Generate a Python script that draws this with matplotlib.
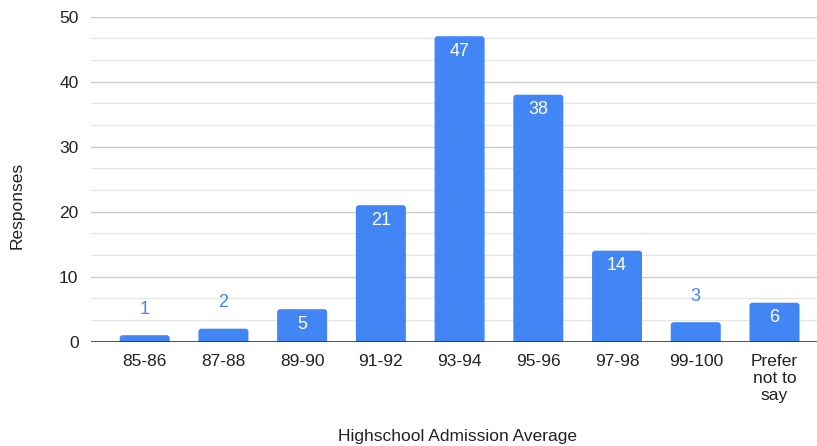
import matplotlib
matplotlib.use("Agg")
import matplotlib.pyplot as plt
from matplotlib.patches import FancyBboxPatch
import numpy as np

plt.rcParams['font.family'] = ['Liberation Sans', 'DejaVu Sans']

categories = ["85-86", "87-88", "89-90", "91-92", "93-94", "95-96", "97-98", "99-100", "Prefer\nnot to\nsay"]
responses = [1, 2, 5, 21, 47, 38, 14, 3, 6]

BLUE = "#4285F4"
TEXT = "#222222"

fig = plt.figure(figsize=(8.17, 4.46), dpi=100)
W, H = 817, 446
left, right, top, bottom = 91, 817, 16.7, 341.7
ax = fig.add_axes([left / W, 1 - bottom / H, (right - left) / W, (bottom - top) / H])

x = np.arange(len(categories))
bars = ax.bar(x, responses, width=0.635, color=BLUE, zorder=3)

ax.set_xlim(-0.682, 8.54)
ax.set_ylim(0, 50)

# rounded bar tops (radius ~3px)
px_x = (right - left) / (8.54 + 0.682)
px_y = (bottom - top) / 50
r_x = 3 / px_x
aspect = (3 / px_y) / r_x
for b in bars:
    b.set_visible(False)
    y0 = -1.0
    p = FancyBboxPatch((b.get_x(), y0), b.get_width(), b.get_height() - y0,
                       boxstyle=f"round,pad=0,rounding_size={r_x}",
                       mutation_aspect=aspect, facecolor=BLUE, edgecolor="none", zorder=3)
    ax.add_patch(p)

# gridlines
for v in np.arange(0, 50.01, 10 / 3):
    is_major = abs(v / 10 - round(v / 10)) < 1e-6
    if v == 0:
        continue
    ax.axhline(v, color="#cccccc" if is_major else "#e6e6e6", lw=1.0, zorder=1)
ax.axhline(0, color="#333333", lw=1.2, zorder=4)

ax.set_yticks([0, 10, 20, 30, 40, 50])
ax.set_yticklabels(["0", "10", "20", "30", "40", "50"])
ax.set_xticks(x)
ax.set_xticklabels(categories, linespacing=1.15)
ax.tick_params(axis="both", length=0, labelsize=12.5, colors=TEXT)
ax.tick_params(axis="y", pad=9)
ax.tick_params(axis="x", pad=9)
for lab in ax.get_xticklabels():
    lab.set_verticalalignment("top")

for s in ax.spines.values():
    s.set_visible(False)

# data labels
for xi, v in zip(x, responses):
    if v >= 5:
        ax.annotate(str(v), (xi, v), xytext=(0, -15 * 0.72), textcoords="offset points",
                    ha="center", va="center", color="white", fontsize=13, zorder=5)
    else:
        ax.annotate(str(v), (xi, v), xytext=(0, 26 * 0.72), textcoords="offset points",
                    ha="center", va="center", color=BLUE, fontsize=13, zorder=5)

fig.text(458 / W, 1 - 436 / H, "Highschool Admission Average", ha="center", va="center",
         fontsize=12.5, color=TEXT)
fig.text(17 / W, 1 - 205 / H, "Responses", ha="center", va="center", rotation=90,
         fontsize=12.5, color=TEXT)

fig.savefig("out.png", dpi=100)
